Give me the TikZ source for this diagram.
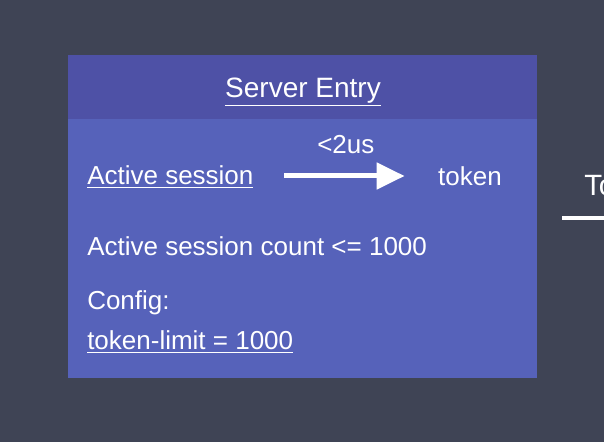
\documentclass[tikz,border=0pt]{standalone}
\usepackage{fontspec}
\setmainfont{Liberation Sans}
\usepackage{xcolor}
\usetikzlibrary{positioning,arrows.meta}

\definecolor{canvasbg}{HTML}{3F4455}
\definecolor{headbg}{HTML}{4E51A6}
\definecolor{bodybg}{HTML}{5662BA}

\begin{document}
\begin{tikzpicture}[
  x=0.75pt, y=-0.75pt,
  label/.style={text=white, font=\fontsize{19.5pt}{23pt}\selectfont, inner sep=0pt},
  arrowline/.style={-{Triangle[length=21pt, width=19.5pt]}, white, line width=3.75pt}
]

% Canvas
\fill[canvasbg] (0,0) rectangle (604,442);
\useasboundingbox (0,0) rectangle (604,442);
\clip (0,0) rectangle (604,442);

% Entry box
\fill[bodybg] (68,55) rectangle (537,378);
\fill[headbg] (68,55) rectangle (537,119);

% Header
\node[label, font=\fontsize{21pt}{25pt}\selectfont] (title) at (303,92) {\underline{Server Entry}};

% Session to token
\node[label, anchor=west] (active) at (87,177) {\underline{Active session}};
\node[label] (token) at (470,176) {token};
\draw[arrowline, shorten <=23pt, shorten >=25pt] (active.east |- token) -- node[label, above=15pt] (lat) {<2us} (token);

% Limits
\node[label, anchor=west] (count) at (87,246) {Active session count <= 1000};
\node[label, anchor=west] (config) at (87,303) {Config:};
\node[label, anchor=west] (limit) at (87,342) {\underline{token-limit = 1000}};

% Next box (cut off)
\node[label, anchor=west, font=\fontsize{22pt}{26pt}\selectfont] (next) at (584,186) {To};
\coordinate (cut) at (562,218);
\coordinate (edge) at (620,218);
\draw[white, line width=3pt] (cut) -- (edge);

\end{tikzpicture}
\end{document}
